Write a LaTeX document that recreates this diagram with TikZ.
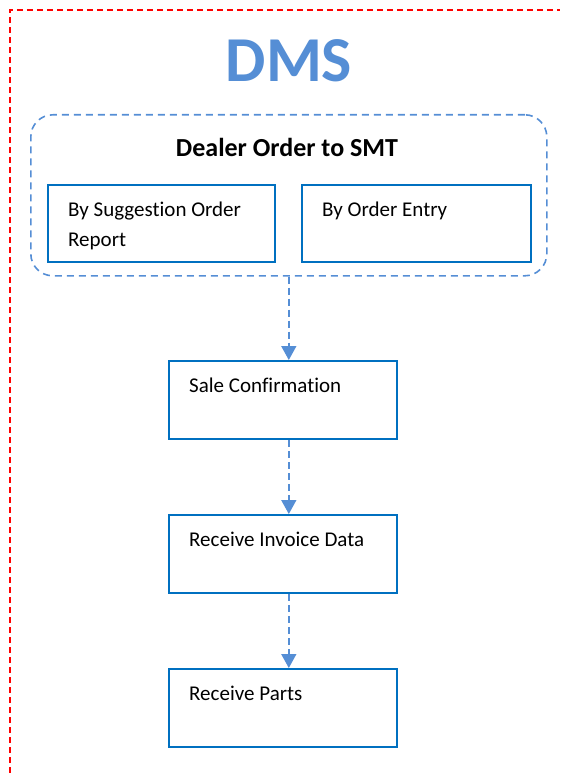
\documentclass[tikz,border=0pt]{standalone}
\usepackage{fontspec}
\setmainfont{Carlito}[Ligatures=NoCommon]
\usetikzlibrary{arrows.meta}
\usetikzlibrary{calc}
\definecolor{dmsblue}{HTML}{558ED5}
\definecolor{boxblue}{HTML}{0070C0}
\definecolor{framered}{HTML}{FF0000}
\begin{document}
\begin{tikzpicture}[x=1pt,y=-1pt,
		stepbox/.style={draw=boxblue,line width=2pt,minimum height=77pt,anchor=north west,inner sep=0pt},
		steptext/.style={anchor=base west,font=\fontsize{21}{30}\selectfont,align=left,inner sep=0pt},
		flow/.style={draw=dmsblue,line width=1.6pt,dash pattern=on 7pt off 4pt,-{Triangle[width=15pt,length=14pt]}}]
					\useasboundingbox (0,0) rectangle (560,773);
					\draw[framered,line width=1.8pt,dash pattern=on 6pt off 4pt] (10,773) -- (10,10) -- (560,10);
					\node[font=\bfseries\fontsize{64}{70}\selectfont,text=dmsblue,anchor=base,inner sep=0pt] (dms) at (289,82) {DMS};
					\node[draw=dmsblue,line width=1.6pt,dash pattern=on 7pt off 5pt,rounded corners=22pt,
						minimum width=516pt,minimum height=161pt,anchor=north west] (grp) at (30,114) {};
					\node[font=\bfseries\fontsize{26}{30}\selectfont,anchor=base,inner sep=0pt] (grptitle) at (287,157) {Dealer Order to SMT};
					\node[stepbox,minimum width=227pt] (sugg) at (47,184) {};
					\node[steptext] (suggtext) at ($(sugg.north west)+(21,62)$) {By Suggestion Order\\Report};
					\node[stepbox,minimum width=229pt] (entry) at (301,184) {};
					\node[steptext] (entrytext) at ($(entry.north west)+(21,32)$) {By Order Entry};
					\foreach \name/\ypos/\txt in {sale/360/Sale Confirmation, invoice/514/Receive Invoice Data, parts/668/Receive Parts} {
						\node[stepbox,minimum width=228pt,minimum height=78pt] (\name) at (168,\ypos) {};
						\node[steptext] (\name text) at ($(\name.north west)+(21,32)$) {\txt};
					}
					\draw[flow] (grp.south) -- (grp.south |- sale.north);
					\draw[flow] (grp.south |- sale.south) -- (grp.south |- invoice.north);
					\draw[flow] (grp.south |- invoice.south) -- (grp.south |- parts.north);
				\end{tikzpicture}
\end{document}
